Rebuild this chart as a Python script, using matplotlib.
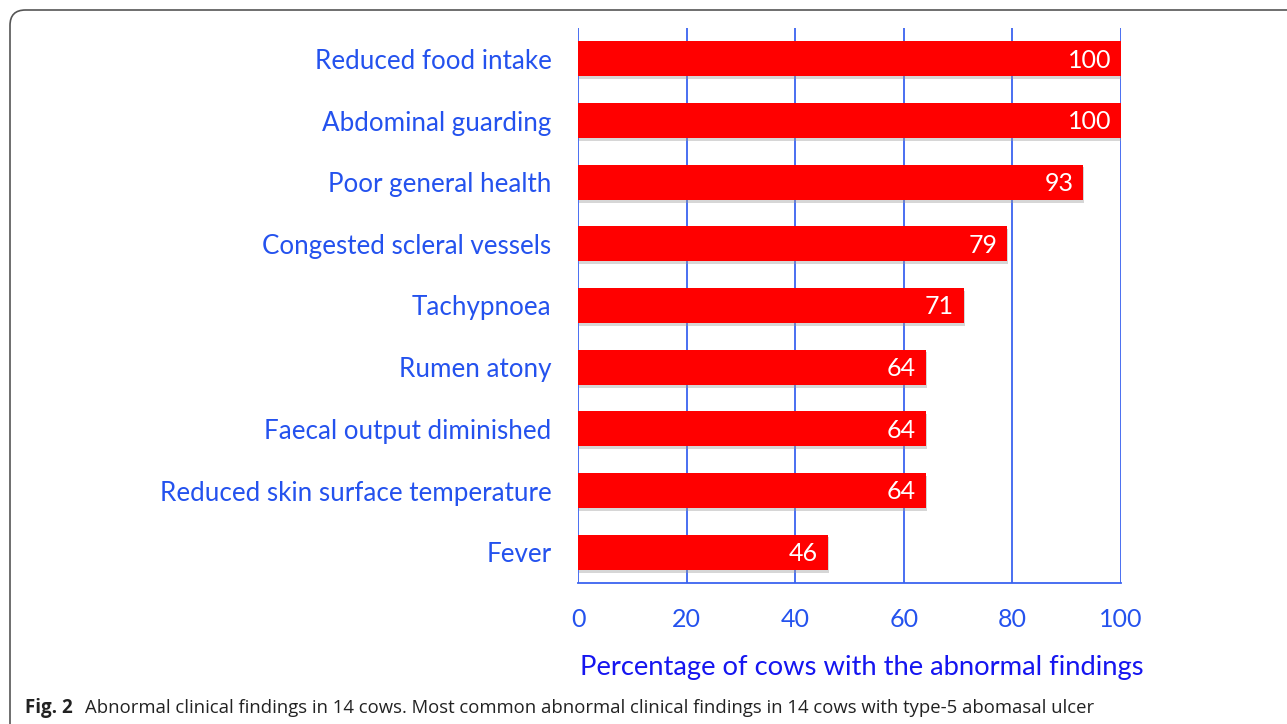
import matplotlib
matplotlib.use("Agg")
import matplotlib.pyplot as plt
from matplotlib.patches import FancyBboxPatch
import matplotlib.patheffects as pe

categories = ["Reduced food intake", "Abdominal guarding", "Poor general health",
              "Congested scleral vessels", "Tachypnoea", "Rumen atony",
              "Faecal output diminished", "Reduced skin surface temperature", "Fever"]
values = [100, 100, 93, 79, 71, 64, 64, 64, 46]
xticks = [0, 20, 40, 60, 80, 100]
xlabel = "Percentage of cows with the abnormal findings"

W, H = 1287, 724
fig = plt.figure(figsize=(W / 100, H / 100), dpi=100)
ax = fig.add_axes([578 / W, 1 - 583 / H, (1121 - 578) / W, (583 - 28) / H])

grid_c = "#3b63f0"
lab_c = "#2452ee"
title_c = "#1515f0"
font = "Lato"

pos = list(range(len(categories)))
bars = ax.barh(pos, values, height=0.57, color="#ff0000", zorder=3)
for b in bars:
    b.set_path_effects([pe.SimplePatchShadow(offset=(1, -2), shadow_rgbFace="#999999", alpha=0.4), pe.Normal()])

for p, v in zip(pos, values):
    ax.annotate(str(v), xy=(v, p), xytext=(-7, -1), textcoords="offset points",
                ha="right", va="center", color="white", fontsize=18, family=font, zorder=4)

ax.set_ylim(len(categories) - 0.5, -0.5)
ax.set_xlim(0, 100)
ax.set_yticks(pos)
ax.set_yticklabels(categories, fontsize=18.7, color=lab_c, family=font)
ax.set_xticks(xticks)
ax.set_xticklabels([str(t) for t in xticks], fontsize=18, color=lab_c, family=font)
ax.tick_params(axis="y", length=0, pad=19)
ax.tick_params(axis="x", length=0, pad=18)
for t in xticks:
    ax.axvline(t, color=grid_c, lw=1.3, zorder=1)
for s in ["top", "right", "left"]:
    ax.spines[s].set_visible(False)
ax.spines["bottom"].set_color(grid_c)
ax.spines["bottom"].set_linewidth(1.3)

fig.text(862 / W, 1 - 667 / H, xlabel, ha="center", va="center", fontsize=19.7,
         color=title_c, family=font)

fig.text(25 / W, 1 - 708 / H, "Fig. 2", ha="left", va="center", fontsize=13.5,
         fontweight="bold", family="Open Sans", color="#222222")
fig.text(85 / W, 1 - 708 / H,
         "Abnormal clinical findings in 14 cows. Most common abnormal clinical findings in 14 cows with type-5 abomasal ulcer",
         ha="left", va="center", fontsize=13.3, family="Open Sans", color="#222222")

frame = FancyBboxPatch((10 / W, -0.1), 1.2, 1.1 - 10 / H,
                       boxstyle="round,pad=0,rounding_size=0.012",
                       transform=fig.transFigure, fill=False, edgecolor="#555555",
                       lw=1.2, mutation_aspect=W / H)
fig.patches.append(frame)

fig.savefig("out.png", dpi=100)
